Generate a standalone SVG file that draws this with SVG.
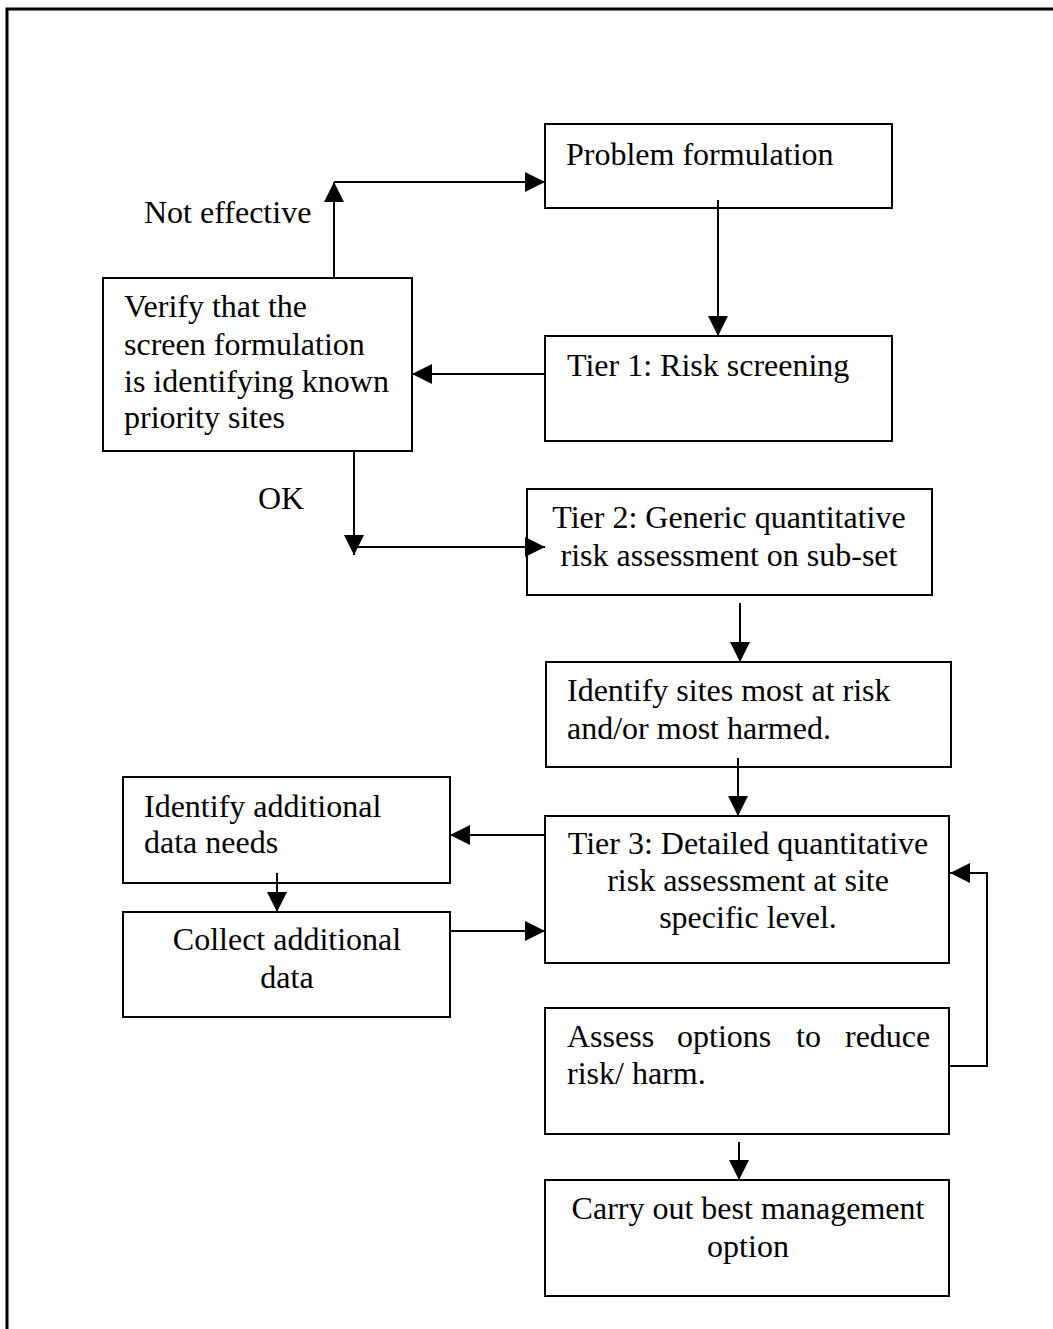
<svg xmlns="http://www.w3.org/2000/svg" width="1053" height="1329" viewBox="0 0 1053 1329">
<style>
.box{fill:#fff;stroke:#000;stroke-width:2}
.t{font-family:"Liberation Serif","Times New Roman",serif;font-size:32px;fill:#000}
.c{text-anchor:middle}
.ln{fill:none;stroke:#000;stroke-width:2}
</style>
<defs>
<marker id="ah" markerUnits="userSpaceOnUse" markerWidth="20" markerHeight="20" refX="20" refY="10" orient="auto" viewBox="0 0 20 20">
<path d="M0,0 L20,10 L0,20 z" fill="#000"/>
</marker>
</defs>
<rect width="1053" height="1329" fill="#fff"/>
<path d="M7,1329 V9 H1053" fill="none" stroke="#000" stroke-width="3"/>

<g id="label-not-effective"><text class="t" x="144" y="223">Not effective</text></g>
<g id="label-ok"><text class="t" x="258" y="509">OK</text></g>

<g id="problem-formulation">
<rect class="box" x="545" y="124" width="347" height="84"/>
<text class="t" x="566" y="165">Problem formulation</text>
</g>

<g id="tier1">
<rect class="box" x="545" y="336" width="347" height="105"/>
<text class="t" x="567" y="376">Tier 1: Risk screening</text>
</g>

<g id="verify">
<rect class="box" x="103" y="278" width="309" height="173"/>
<text class="t" x="124" y="317">Verify that the</text>
<text class="t" x="124" y="355">screen formulation</text>
<text class="t" x="124" y="392">is identifying known</text>
<text class="t" x="124" y="428">priority sites</text>
</g>

<g id="tier2">
<rect class="box" x="527" y="489" width="405" height="106"/>
<text class="t c" x="729" y="528">Tier 2: Generic quantitative</text>
<text class="t c" x="729" y="566">risk assessment on sub-set</text>
</g>

<g id="identify-sites">
<rect class="box" x="546" y="662" width="405" height="105"/>
<text class="t" x="567" y="701">Identify sites most at risk</text>
<text class="t" x="567" y="739">and/or most harmed.</text>
</g>

<g id="identify-data">
<rect class="box" x="123" y="777" width="327" height="106"/>
<text class="t" x="144" y="817">Identify additional</text>
<text class="t" x="144" y="853">data needs</text>
</g>

<g id="collect-data">
<rect class="box" x="123" y="912" width="327" height="105"/>
<text class="t c" x="287" y="950">Collect additional</text>
<text class="t c" x="287" y="988">data</text>
</g>

<g id="tier3">
<rect class="box" x="545" y="816" width="404" height="147"/>
<text class="t c" x="748" y="854">Tier 3: Detailed quantitative</text>
<text class="t c" x="748" y="891">risk assessment at site</text>
<text class="t c" x="748" y="928">specific level.</text>
</g>

<g id="assess">
<rect class="box" x="545" y="1008" width="404" height="126"/>
<text class="t" y="1047"><tspan x="567">Assess</tspan><tspan x="677">options</tspan><tspan x="796">to</tspan><tspan x="845">reduce</tspan></text>
<text class="t" x="567" y="1084">risk/ harm.</text>
</g>

<g id="carry-out">
<rect class="box" x="545" y="1180" width="404" height="116"/>
<text class="t c" x="748" y="1219">Carry out best management</text>
<text class="t c" x="748" y="1257">option</text>
</g>

<g id="connectors">
<path class="ln" d="M334,278 V182" marker-end="url(#ah)"/>
<path class="ln" d="M334,182 H545" marker-end="url(#ah)"/>
<path class="ln" d="M718,200 V336" marker-end="url(#ah)"/>
<path class="ln" d="M545,374 H412" marker-end="url(#ah)"/>
<path class="ln" d="M354,451 V555" marker-end="url(#ah)"/>
<path class="ln" d="M354,547 H545" marker-end="url(#ah)"/>
<path class="ln" d="M740,603 V662" marker-end="url(#ah)"/>
<path class="ln" d="M738,758 V816" marker-end="url(#ah)"/>
<path class="ln" d="M545,835 H450" marker-end="url(#ah)"/>
<path class="ln" d="M277,873 V912" marker-end="url(#ah)"/>
<path class="ln" d="M450,931 H545" marker-end="url(#ah)"/>
<path class="ln" d="M949,1066 H987 V873 H950" marker-end="url(#ah)"/>
<path class="ln" d="M739,1142 V1180" marker-end="url(#ah)"/>
</g>
</svg>
